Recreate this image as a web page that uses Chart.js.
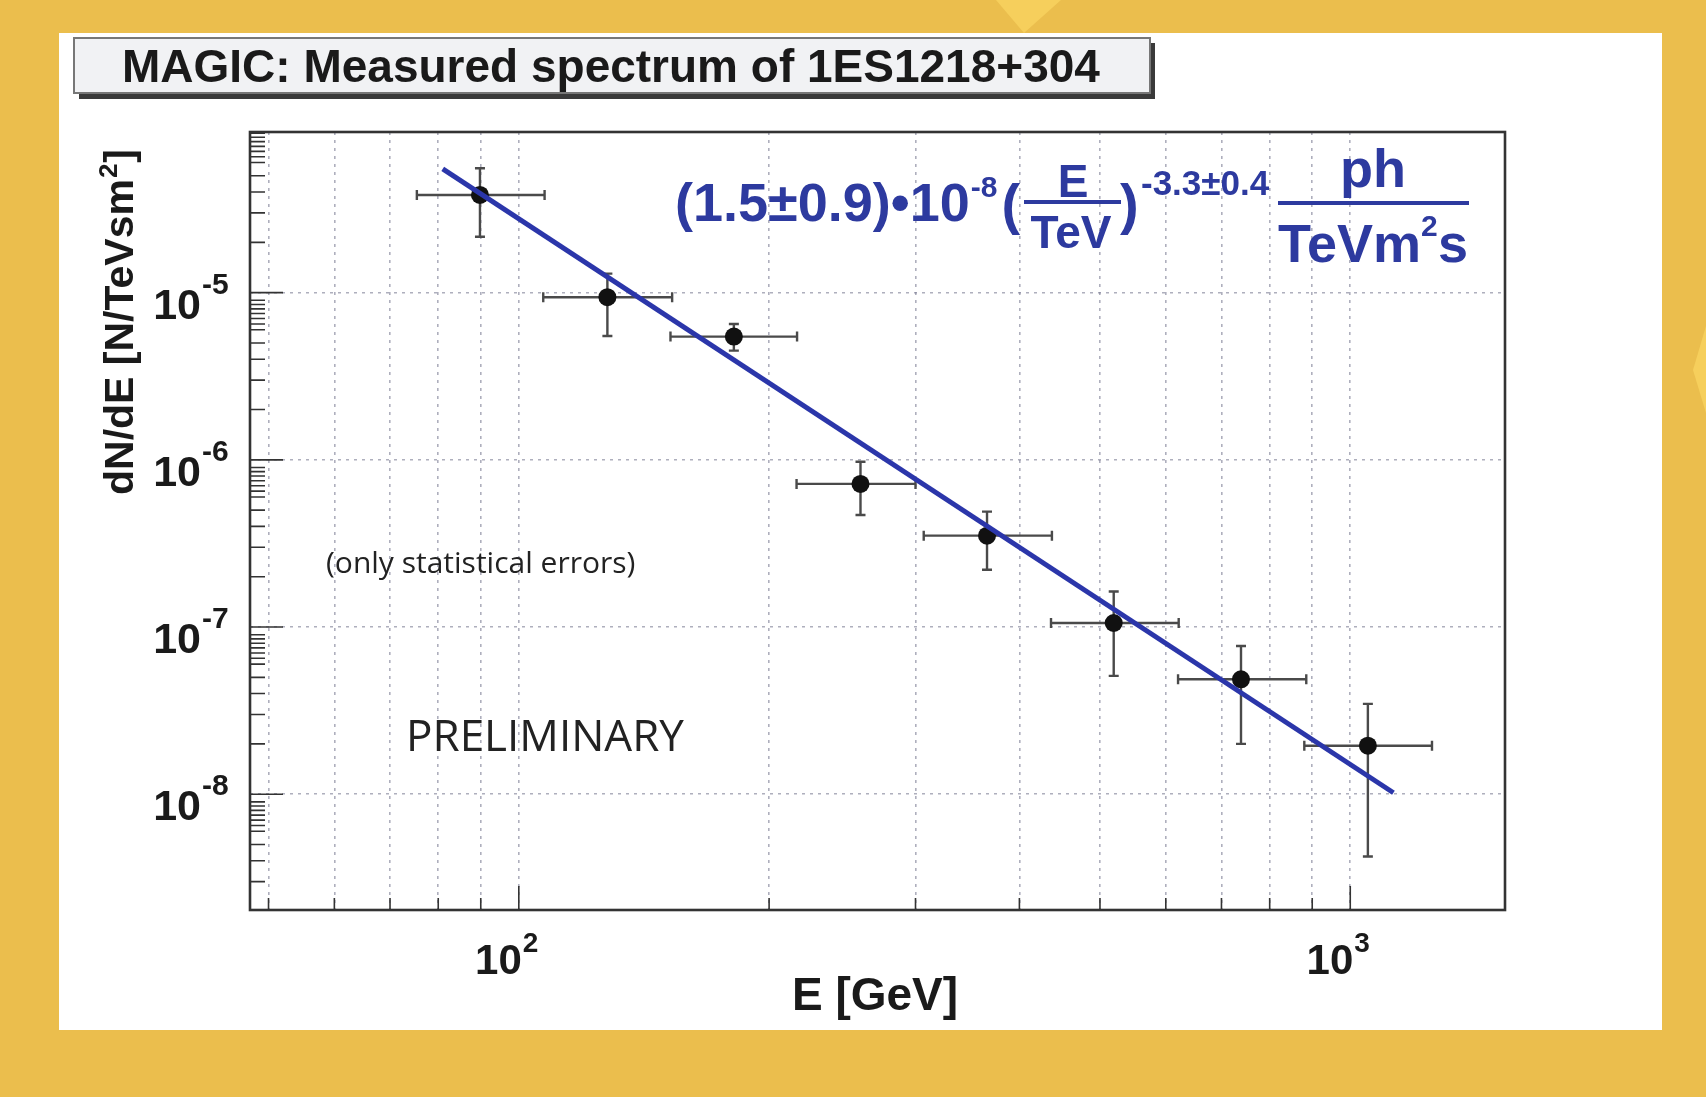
<!DOCTYPE html>
<html>
<head>
<meta charset="utf-8">
<title>MAGIC: Measured spectrum of 1ES1218+304</title>
<script src="https://cdn.jsdelivr.net/npm/chart.js@4.4.1/dist/chart.umd.min.js"></script>
<style>
  html, body { margin: 0; padding: 0; background: #ebbe4d; overflow: hidden; }
  canvas { display: block; }
</style>
</head>
<body>
<canvas id="myChart" width="1706" height="1097"></canvas>
<script>
const energy   = [89.8, 127.8, 181.4, 257.6, 365.7, 519.4, 738.9, 1050];
const eLow     = [75.4, 107, 152.2, 215.8, 306.9, 436.6, 620.7, 880.5];
const eHigh    = [107.4, 152.9, 216.1, 300, 437.7, 621.8, 885.3, 1254];
const flux     = [3.84e-5, 9.39e-6, 5.46e-6, 7.18e-7, 3.52e-7, 1.057e-7, 4.87e-8, 1.95e-8];
const fluxLow  = [2.16e-5, 5.5e-6, 4.5e-6, 4.68e-7, 2.2e-7, 5.1e-8, 2.0e-8, 4.24e-9];
const fluxHigh = [5.55e-5, 1.3e-5, 6.5e-6, 9.75e-7, 4.9e-7, 1.63e-7, 7.7e-8, 3.47e-8];

// recta del ajuste (extremos)
const fitEnergy = [81, 1127];
const fitFlux   = [5.5e-5, 1.02e-8];

// ejes
const xGrid = [50, 60, 70, 80, 90, 100, 200, 300, 400, 500, 600, 700, 800, 900, 1000];
const xMajor = [100, 1000];
const xLabels = ['2', '3'];
const yGrid = [1e-8, 1e-7, 1e-6, 1e-5];
const yLabels = ['-8', '-7', '-6', '-5'];
const yDecades = [1e-9, 1e-8, 1e-7, 1e-6, 1e-5];
const yMinorSteps = [2, 3, 4, 5, 6, 6.5, 7, 7.5, 8, 8.5, 9];

function font(size, face) {
  return 'bold ' + size + 'px ' + (face || '"Liberation Sans", Arial, sans-serif');
}

const fondo = {
  id: 'fondo',
  beforeDraw(chart) {
    const c = chart.ctx;
    c.save();
    c.fillStyle = '#ebbe4d';
    c.fillRect(0, 0, chart.width, chart.height);
    c.fillStyle = '#f6cf5c';
    c.beginPath(); c.moveTo(996, 0); c.lineTo(1061, 0); c.lineTo(1024, 33); c.closePath(); c.fill();
    c.beginPath(); c.moveTo(1706, 326); c.lineTo(1693, 370); c.lineTo(1706, 413); c.closePath(); c.fill();
    c.fillStyle = '#ffffff';
    c.fillRect(59, 33, 1603, 997);
    // caja del titulo
    c.fillStyle = '#3a3a3a';
    c.fillRect(79, 43, 1076, 56);
    c.fillStyle = '#f1f2f4';
    c.fillRect(74, 38, 1076, 55);
    c.strokeStyle = '#777';
    c.lineWidth = 2;
    c.strokeRect(74, 38, 1076, 55);
    c.fillStyle = '#1a1a1a';
    c.font = font(46);
    c.textBaseline = 'alphabetic';
    c.fillText('MAGIC: Measured spectrum of 1ES1218+304', 122, 82);
    c.restore();
  }
};

const barras = {
  id: 'barras',
  beforeDatasetsDraw(chart) {
    const {ctx, scales: {x, y}} = chart;
    ctx.save();
    ctx.strokeStyle = '#4a4a4a';
    ctx.lineWidth = 2.4;
    energy.forEach((e, i) => {
      const px = x.getPixelForValue(e), py = y.getPixelForValue(flux[i]);
      const x1 = x.getPixelForValue(eLow[i]), x2 = x.getPixelForValue(eHigh[i]);
      const y1 = y.getPixelForValue(fluxHigh[i]), y2 = y.getPixelForValue(fluxLow[i]);
      ctx.beginPath();
      ctx.moveTo(x1, py); ctx.lineTo(x2, py);
      ctx.moveTo(x1, py - 5); ctx.lineTo(x1, py + 5);
      ctx.moveTo(x2, py - 5); ctx.lineTo(x2, py + 5);
      ctx.moveTo(px, y1); ctx.lineTo(px, y2);
      ctx.moveTo(px - 5, y1); ctx.lineTo(px + 5, y1);
      ctx.moveTo(px - 5, y2); ctx.lineTo(px + 5, y2);
      ctx.stroke();
    });
    ctx.restore();
  }
};

const ejes = {
  id: 'ejes',
  afterDraw(chart) {
    const {ctx, chartArea: a, scales: {x, y}} = chart;
    ctx.save();
    // marcas interiores
    ctx.strokeStyle = '#333';
    ctx.lineWidth = 1.6;
    ctx.beginPath();
    xGrid.forEach(v => {
      const p = x.getPixelForValue(v);
      const len = xMajor.includes(v) ? 24 : 12;
      ctx.moveTo(p, a.bottom); ctx.lineTo(p, a.bottom - len);
    });
    yDecades.forEach(d => {
      if (d > y.min && d < y.max) {
        const p = y.getPixelForValue(d);
        ctx.moveTo(a.left, p); ctx.lineTo(a.left + 33, p);
      }
      yMinorSteps.forEach(s => {
        const v = s * d;
        if (v > y.min && v < y.max) {
          const p = y.getPixelForValue(v);
          ctx.moveTo(a.left, p); ctx.lineTo(a.left + 15, p);
        }
      });
    });
    ctx.stroke();
    // marco
    ctx.lineWidth = 2.6;
    ctx.strokeRect(a.left, a.top, a.right - a.left, a.bottom - a.top);

    // etiquetas eje y
    ctx.fillStyle = '#1a1a1a';
    ctx.textBaseline = 'alphabetic';
    yGrid.forEach((v, i) => {
      const p = y.getPixelForValue(v);
      ctx.font = font(43);
      ctx.textAlign = 'right';
      ctx.fillText('10', a.left - 49, p + 26);
      ctx.font = font(30);
      ctx.textAlign = 'left';
      ctx.fillText(yLabels[i], a.left - 48, p + 1);
    });
    // etiquetas eje x
    xMajor.forEach((v, i) => {
      const p = x.getPixelForValue(v);
      ctx.font = font(42);
      ctx.textAlign = 'right';
      ctx.fillText('10', p + 3, a.bottom + 64);
      ctx.font = font(28);
      ctx.textAlign = 'left';
      ctx.fillText(xLabels[i], p + 4, a.bottom + 42);
    });
    // titulos de ejes
    ctx.font = font(46);
    ctx.textAlign = 'center';
    ctx.fillText('E [GeV]', 875, 1010);

    ctx.save();
    ctx.translate(133, 323);
    ctx.rotate(-Math.PI / 2);
    ctx.textAlign = 'left';
    ctx.font = font(41);
    const t1 = 'dN/dE [N/TeVsm', t3 = ']';
    const w1 = ctx.measureText(t1).width, w3 = ctx.measureText(t3).width;
    ctx.font = font(26);
    const w2 = ctx.measureText('2').width;
    let u = -(w1 + w2 + w3) / 2;
    ctx.font = font(41);
    ctx.fillText(t1, u, 0);
    ctx.font = font(26);
    ctx.fillText('2', u + w1 + 1, -16);
    ctx.font = font(41);
    ctx.fillText(t3, u + w1 + w2 + 2, 0);
    ctx.restore();

    // formula del ajuste
    ctx.fillStyle = '#2d3a9f';
    ctx.textAlign = 'left';
    let fx = 675;
    ctx.font = font(54);
    ctx.fillText('(1.5\u00b10.9)\u202210', fx, 221);
    fx += ctx.measureText('(1.5\u00b10.9)\u202210').width + 1;
    ctx.font = font(30);
    ctx.fillText('-8', fx, 197);
    fx += ctx.measureText('-8').width + 4;
    ctx.font = font(56);
    ctx.fillText('(', fx, 223);
    ctx.fillText(')', 1120, 223);
    ctx.textAlign = 'center';
    ctx.font = font(46);
    ctx.fillText('E', 1073, 197);
    ctx.fillText('TeV', 1071, 248);
    ctx.fillRect(1024, 200, 97, 4);
    ctx.textAlign = 'left';
    ctx.font = font(35);
    ctx.fillText('-3.3\u00b10.4', 1141, 195);
    ctx.textAlign = 'center';
    ctx.font = font(54);
    ctx.fillText('ph', 1373, 187);
    ctx.fillRect(1278, 201, 191, 4);
    ctx.textAlign = 'left';
    ctx.fillText('TeVm', 1278, 262);
    const wt = ctx.measureText('TeVm').width;
    ctx.font = font(30);
    ctx.fillText('2', 1278 + wt, 236);
    ctx.font = font(54);
    ctx.fillText('s', 1278 + wt + 17, 262);

    // notas
    ctx.fillStyle = '#222';
    ctx.font = '30px "Open Sans", sans-serif';
    ctx.textBaseline = 'middle';
    ctx.fillText('(only statistical errors)', 326, 564);
    ctx.textBaseline = 'alphabetic';
    ctx.font = '44px "Open Sans", sans-serif';
    ctx.fillText('PRELIMINARY', 406, 751);
    ctx.restore();
  }
};

const ctx = document.getElementById('myChart').getContext('2d');
const myChart = new Chart(ctx, {
  type: 'scatter',
  data: {
    datasets: [{
      label: 'dN/dE',
      data: energy.map((e, i) => ({x: e, y: flux[i]})),
      backgroundColor: '#111',
      borderWidth: 0,
      pointRadius: 9,
      order: 1
    }, {
      label: 'ajuste',
      data: fitEnergy.map((e, i) => ({x: e, y: fitFlux[i]})),
      showLine: true,
      borderColor: '#2b36aa',
      borderWidth: 5,
      pointRadius: 0,
      order: 0
    }]
  },
  options: {
    responsive: false,
    animation: false,
    devicePixelRatio: 1,
    layout: { padding: { left: 250, top: 132, right: 201, bottom: 187 } },
    plugins: { legend: { display: false }, tooltip: { enabled: false } },
    scales: {
      x: {
        type: 'logarithmic',
        min: 47.5,
        max: 1535,
        afterBuildTicks: axis => { axis.ticks = xGrid.map(v => ({value: v})); },
        ticks: { display: false },
        grid: { color: 'rgba(120,122,145,0.6)', lineWidth: 1.6, drawTicks: false },
        border: { display: false, dash: [3, 5] }
      },
      y: {
        type: 'logarithmic',
        min: 2.03e-9,
        max: 9.14e-5,
        afterBuildTicks: axis => { axis.ticks = yGrid.map(v => ({value: v})); },
        ticks: { display: false },
        grid: { color: 'rgba(120,122,145,0.6)', lineWidth: 1.6, drawTicks: false },
        border: { display: false, dash: [3, 5] }
      }
    }
  },
  plugins: [fondo, barras, ejes]
});
</script>
</body>
</html>
